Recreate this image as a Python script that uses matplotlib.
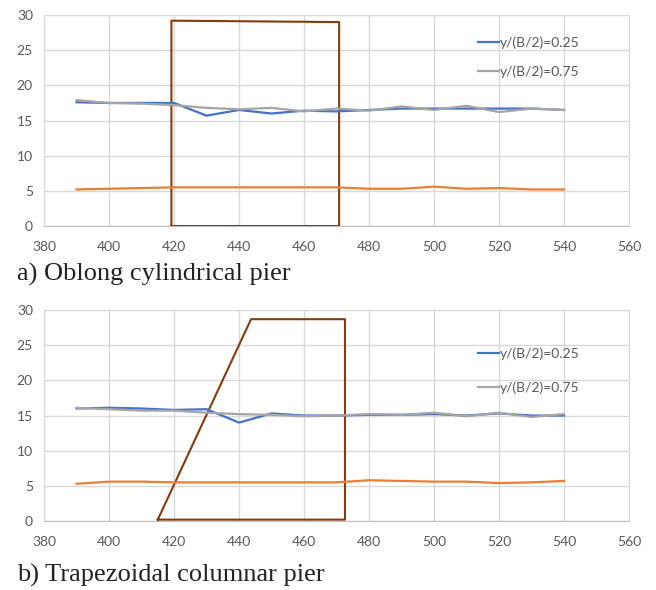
import numpy as np
import matplotlib.pyplot as plt

# cross-section positions
x = [390, 400, 410, 420, 430, 440, 450, 460, 470, 480, 490, 500, 510, 520, 530, 540]

# a) oblong cylindrical pier
a_025 = [17.6, 17.5, 17.5, 17.5, 15.7, 16.5, 16.0, 16.4, 16.3, 16.5, 16.7, 16.7, 16.7, 16.7, 16.7, 16.5]
a_075 = [17.9, 17.5, 17.4, 17.2, 16.8, 16.6, 16.8, 16.3, 16.7, 16.4, 17.0, 16.5, 17.1, 16.2, 16.7, 16.5]
a_low = [5.2, 5.3, 5.4, 5.5, 5.5, 5.5, 5.5, 5.5, 5.5, 5.3, 5.3, 5.6, 5.3, 5.4, 5.2, 5.2]
a_pier_x = [419.2, 419.2, 470.8, 470.8, 419.2]
a_pier_y = [0, 29.2, 29.0, 0, 0]

# b) trapezoidal columnar pier
b_025 = [16.0, 16.1, 16.0, 15.8, 15.9, 14.0, 15.3, 15.0, 15.0, 15.1, 15.1, 15.2, 15.0, 15.3, 15.0, 15.0]
b_075 = [16.1, 15.9, 15.7, 15.7, 15.4, 15.2, 15.1, 14.9, 15.0, 15.2, 15.1, 15.4, 14.9, 15.4, 14.8, 15.2]
b_low = [5.3, 5.6, 5.6, 5.5, 5.5, 5.5, 5.5, 5.5, 5.5, 5.8, 5.7, 5.6, 5.6, 5.4, 5.5, 5.7]
b_pier_x = [415.0, 443.7, 472.6, 472.6, 415.0]
b_pier_y = [0.2, 28.7, 28.7, 0.2, 0.2]

captions = ['a) Oblong cylindrical pier', 'b) Trapezoidal columnar pier']

plt.rcParams['font.family'] = ['Lato', 'DejaVu Sans']

fig = plt.figure(figsize=(6.56, 5.90), dpi=100)
ax1 = fig.add_axes([0.0671, 0.6169, 0.8918, 0.3576])
ax2 = fig.add_axes([0.0671, 0.1169, 0.8918, 0.3576])

panels = [
    (ax1, a_025, a_075, a_low, a_pier_x, a_pier_y, (0.742, 0.898), 1.15, 0.5356),
    (ax2, b_025, b_075, b_low, b_pier_x, b_pier_y, (0.742, 0.822), 1.55, 0.0254),
]

for i, (ax, s1, s2, s3, px, py, lpos, lsp, cy) in enumerate(panels):
    ax.plot(px, py, color='#843C0C', lw=1.5, zorder=3)
    ax.plot(x, s1, color='#4472C4', lw=1.6, label='y/(B/2)=0.25', zorder=4)
    ax.plot(x, s2, color='#A5A5A5', lw=1.6, label='y/(B/2)=0.75', zorder=4)
    ax.plot(x, s3, color='#ED7D31', lw=1.6, zorder=4)

    ax.set_xlim(380, 560)
    ax.set_ylim(0, 30)
    ax.set_xticks(range(380, 561, 20))
    ax.set_yticks(range(0, 31, 5))
    ax.grid(True, color='#d9d9d9', lw=1)
    ax.set_axisbelow(True)
    ax.tick_params(length=0, labelsize=10, labelcolor='#595959')
    ax.tick_params(axis='x', pad=11)
    ax.tick_params(axis='y', pad=8)
    for side in ['left', 'top', 'right']:
        ax.spines[side].set_color('#d9d9d9')
    ax.spines['bottom'].set_color('#bfbfbf')

    ax.legend(loc='upper left', bbox_to_anchor=lpos, frameon=False, fontsize=10,
              handlelength=1.5, handletextpad=0.1, labelspacing=lsp,
              borderpad=0, borderaxespad=0, labelcolor='#595959')

    fig.text(0.026, cy, captions[i], family='Liberation Serif', fontsize=19,
             color='#222222', va='center', ha='left')

plt.savefig('out.png', dpi=100)
